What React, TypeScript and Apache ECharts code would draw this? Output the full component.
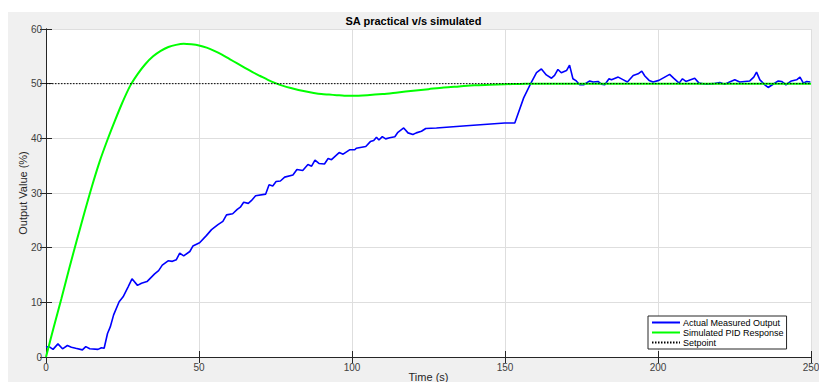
import React, { useEffect, useRef } from "react";
import * as echarts from "echarts";

const title = "SA practical v/s simulated";
const xTitle = "Time (s)";
const yTitle = "Output Value (%)";
const seriesNames = ["Actual Measured Output", "Simulated PID Response", "Setpoint"];

const blueT = [
  0, 1, 2.3, 3.9, 5.4, 7.0, 8.3, 9.7, 11.9, 13.0, 14.3, 17.0, 18.1, 19.0, 20.1, 21.0, 22.1, 23.9,
  25.2, 26.8, 28.1, 29.9, 31.2, 33.0, 35.5, 36.8, 38.0, 39.9, 41.3, 42.6, 43.7, 45.0, 47.0, 48.0,
  50.2, 52.4, 54.1, 56.2, 57.8, 59.0, 61.0, 62.5, 63.5, 64.6, 66.1, 67.1, 68.5, 71.8, 72.9, 74.1,
  75.2, 76.6, 78.0, 80.7, 82.0, 83.9, 85.6, 86.8, 87.9, 89.2, 91.0, 92.2, 93.3, 95.8, 97.1, 99.2,
  100.9, 101.4, 104.5, 106.0, 107.1, 108.0, 108.8, 109.9, 111.0, 112.3, 114.0, 115.0, 116.9, 118.3,
  119.9, 121.0, 122.7, 124.1, 127.6, 137.4, 149.9, 153.2, 156.1, 158.3, 160.3, 161.9, 163.5, 165.2,
  166.2, 167.3, 168.4, 170.1, 171.1, 172.2, 173.3, 174.4, 175.7, 177.7, 178.8, 180.4, 181.5, 182.6,
  184.0, 184.8, 187.0, 188.7, 190.0, 191.9, 193.5, 194.7, 195.7, 197.1, 198.4, 200.3, 202.2, 203.8,
  205.1, 206.9, 208.0, 209.1, 212.0, 213.4, 215.8, 218.0, 220.2, 221.8, 223.4, 225.1, 226.7, 230.0,
  231.3, 232.2, 233.3, 234.9, 236.0, 237.6, 239.3, 240.4, 241.8, 243.6, 245.3, 246.4, 247.5, 248.6,
  249.8,
];
const blueV = [
  1.8, 1.9, 1.4, 2.4, 1.5, 2.1, 1.8, 1.6, 1.3, 1.9, 1.5, 1.4, 1.7, 1.6, 4.3, 5.5, 7.7, 10.1,
  11.0, 12.8, 14.3, 13.1, 13.5, 13.8, 15.2, 15.8, 16.8, 17.6, 17.5, 17.8, 19.0, 18.5, 19.3, 20.3,
  20.9, 22.2, 23.3, 24.2, 24.8, 26.0, 26.2, 27.0, 27.4, 28.3, 28.1, 28.6, 29.5, 29.8, 31.5, 31.3,
  32.1, 32.2, 32.9, 33.3, 34.3, 34.1, 35.2, 34.9, 36.0, 35.4, 35.3, 36.3, 36.1, 37.4, 37.1, 37.9,
  37.9, 38.2, 38.5, 39.4, 39.6, 40.2, 39.7, 40.3, 39.9, 40.1, 40.3, 41.1, 41.9, 41.0,
  40.7, 41.0, 41.3, 41.8, 41.9, 42.3, 42.8, 42.8, 47.4, 49.9, 52.0, 52.7, 51.6, 51.0,
  51.5, 52.6, 52.0, 52.4, 53.4, 50.9, 50.5, 49.8, 49.8, 50.5, 50.3, 50.4, 49.9, 49.8,
  50.9, 50.7, 51.2, 50.7, 50.3, 51.5, 51.8, 52.3, 51.4, 50.6, 50.3, 50.6, 51.2, 51.7,
  51.0, 50.1, 50.9, 50.4, 51.0, 50.1, 49.9, 50.0, 50.2, 49.9, 50.3, 50.7, 50.3, 50.5,
  51.2, 52.1, 50.7, 49.8, 49.3, 49.9, 50.5, 50.4, 49.8, 50.5, 50.7, 51.2, 50.1, 50.4,
  50.3,
];

const greenT = [
  0, 2.5, 5, 7.5, 10, 12.5, 15, 17.5, 20, 22.5, 25, 27.5, 30, 32.5, 35, 37.5, 40, 42.5, 45, 47.5,
  50, 52.5, 55, 57.5, 60, 62.5, 65, 67.5, 70, 72.5, 75, 77.5, 80, 82.5, 85, 87.5, 90, 92.5, 95,
  97.5, 100, 105, 110, 115, 120, 125, 130, 135, 140, 145, 150, 155, 160, 200, 250,
];
const greenV = [
  0, 5.4, 10.6, 16, 21.2, 26.3, 31.2, 35.7, 39.6, 43.2, 46.6, 49.6, 51.8, 53.6, 55, 56, 56.7, 57.1,
  57.3, 57.2, 57.0, 56.6, 56.0, 55.3, 54.5, 53.7, 52.9, 52.1, 51.4, 50.7, 50.1, 49.6, 49.2, 48.85,
  48.55, 48.3, 48.1, 48.0, 47.9, 47.8, 47.8, 47.9, 48.1, 48.4, 48.7, 49.0, 49.3, 49.5, 49.7, 49.8,
  49.9, 49.95, 50, 50, 50,
];

const setpointT = [0, 250];
const setpointV = [50, 50];

const xTicks = { min: 0, max: 250, interval: 50 };
const yTicks = { min: 0, max: 60, interval: 10 };

const FONT = "'Liberation Sans', Arial, Helvetica, sans-serif";
const AXIS_COLOR = "#262626";

export default function App() {
  const ref = useRef<HTMLDivElement>(null);
  useEffect(() => {
    if (!ref.current) return;
    const chart = echarts.init(ref.current, undefined, { renderer: "svg" });
    const zip = (t: number[], v: number[]) => t.map((x, i) => [x, v[i]]);
    const baseX = {
      type: "value" as const,
      min: xTicks.min,
      max: xTicks.max,
      interval: xTicks.interval,
      axisLine: { show: true, lineStyle: { color: AXIS_COLOR, width: 1 } },
      axisTick: { show: true, inside: true, length: 6, lineStyle: { color: AXIS_COLOR } },
    };
    const baseY = {
      type: "value" as const,
      min: yTicks.min,
      max: yTicks.max,
      interval: yTicks.interval,
      axisLine: { show: true, lineStyle: { color: AXIS_COLOR, width: 1 } },
      axisTick: { show: true, inside: true, length: 6, lineStyle: { color: AXIS_COLOR } },
    };
    chart.setOption({
      animation: false,
      backgroundColor: "#f0f0f0",
      textStyle: { fontFamily: FONT },
      title: {
        text: title,
        left: "center",
        top: 3,
        padding: 0,
        textStyle: { fontSize: 11, fontWeight: "bold", color: "#000", fontFamily: FONT },
      },
      grid: {
        left: 38,
        right: 8,
        top: 17,
        bottom: 25,
        containLabel: false,
        outerBoundsMode: "none",
        show: true,
        backgroundColor: "#ffffff",
        borderWidth: 0,
      },
      legend: {
        data: seriesNames,
        orient: "vertical",
        left: 640,
        top: 304,
        itemWidth: 28,
        itemHeight: 8,
        itemGap: 1,
        padding: [2, 3, 2, 3],
        backgroundColor: "#ffffff",
        borderColor: AXIS_COLOR,
        borderWidth: 1,
        itemStyle: { opacity: 0, borderWidth: 0 },
        textStyle: { fontSize: 9, color: "#000", fontFamily: FONT, padding: [0, 0, 0, -2] },
      },
      xAxis: [
        {
          ...baseX,
          position: "bottom",
          name: xTitle,
          nameLocation: "middle",
          nameGap: 14,
          nameMoveOverlap: false,
          nameTextStyle: { fontSize: 11, color: AXIS_COLOR, fontFamily: FONT },
          axisLabel: { show: true, color: "#404040", fontSize: 10, margin: 5, fontFamily: FONT },
          splitLine: { show: true, lineStyle: { color: "#dedede", width: 1 } },
        },
        {
          ...baseX,
          position: "top",
          axisLabel: { show: false },
          splitLine: { show: false },
        },
      ],
      yAxis: [
        {
          ...baseY,
          position: "left",
          name: yTitle,
          nameLocation: "middle",
          nameGap: 18,
          nameMoveOverlap: false,
          nameTextStyle: { fontSize: 11, color: AXIS_COLOR, fontFamily: FONT },
          axisLabel: { show: true, color: "#404040", fontSize: 10, margin: 4, fontFamily: FONT },
          splitLine: { show: true, lineStyle: { color: "#dedede", width: 1 } },
        },
        {
          ...baseY,
          position: "right",
          axisLabel: { show: false },
          splitLine: { show: false },
        },
      ],
      series: [
        {
          name: seriesNames[0],
          type: "line",
          data: zip(blueT, blueV),
          symbol: "none",
          lineStyle: { color: "#0000ff", width: 1.6 },
          itemStyle: { color: "#0000ff" },
        },
        {
          name: seriesNames[1],
          type: "line",
          data: zip(greenT, greenV),
          symbol: "none",
          smooth: 0.3,
          lineStyle: { color: "#00ff00", width: 2 },
          itemStyle: { color: "#00ff00" },
        },
        {
          name: seriesNames[2],
          type: "line",
          data: zip(setpointT, setpointV),
          symbol: "none",
          lineStyle: { color: "#000000", width: 1, type: [1.5, 1.5] },
          itemStyle: { color: "#000000" },
        },
      ],
    });
    return () => chart.dispose();
  }, []);
  return (
    <div
      ref={ref}
      style={{ position: "absolute", left: 8, top: 12, width: 811, height: 370 }}
    />
  );
}
